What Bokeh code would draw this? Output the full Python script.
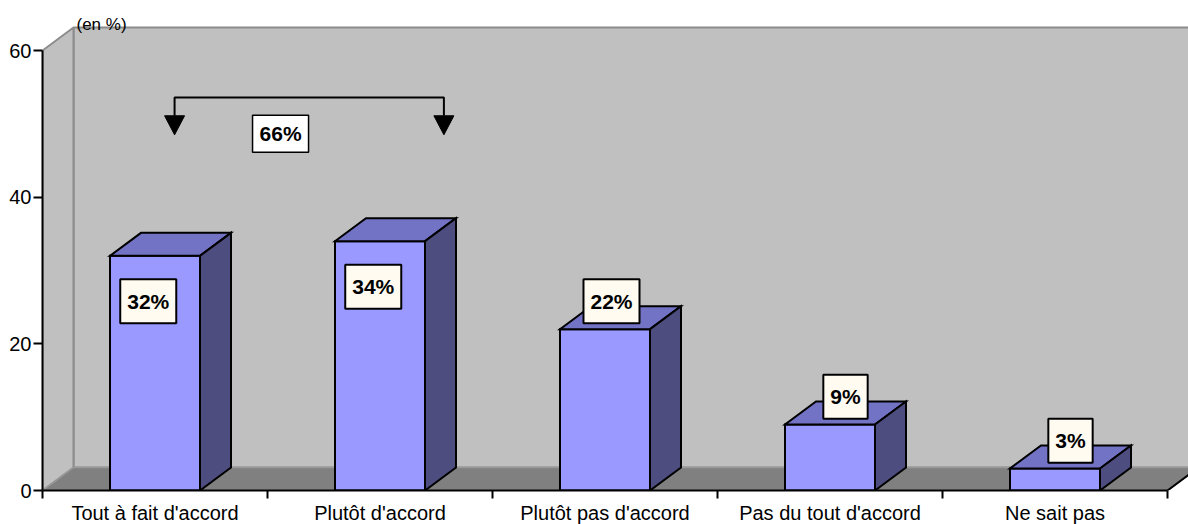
from bokeh.plotting import figure
from bokeh.models import Range1d, FixedTicker
from bokeh.core.properties import value
from bokeh.embed import file_html
from bokeh.resources import INLINE

# ---- data ----
categories = ["Tout à fait d'accord", "Plutôt d'accord", "Plutôt pas d'accord",
              "Pas du tout d'accord", "Ne sait pas"]
values = [32, 34, 22, 9, 3]
value_labels = ["32%", "34%", "22%", "9%", "3%"]
y_ticks = [0, 20, 40, 60]
unit_label = "(en %)"
group_label = "66%"

# ---- layout constants (pixels -> data) ----
PX_X = 225.0            # pixels per category
PX_Y = 440.0 / 60.0     # pixels per percent
FRAME_W, FRAME_H = 1146, 490
XMAX = FRAME_W / PX_X
YMAX = FRAME_H / PX_Y
DX = 31 / PX_X          # 3D depth offset
DY = 23 / PX_Y
BW = 90 / PX_X          # bar width
N = len(categories)
FONT = value("Liberation Sans")
LBL_SIZE = 21

p = figure(frame_width=FRAME_W, frame_height=FRAME_H,
           x_range=Range1d(0, XMAX), y_range=Range1d(0, YMAX),
           output_backend="svg", toolbar_location=None,
           min_border_left=42, min_border_right=0, min_border_top=0,
           min_border_bottom=34)
p.outline_line_color = None
p.background_fill_color = "white"
p.border_fill_color = "white"
p.xgrid.visible = False
p.ygrid.visible = False

# back wall
p.quad(left=[DX], right=[XMAX + 1], bottom=[DY], top=[y_ticks[-1] + DY],
       fill_color="#c0c0c0", line_color="#8c8c8c", line_width=2)
# left wall
p.patch([0, 0, DX, DX], [0, y_ticks[-1], y_ticks[-1] + DY, DY],
        fill_color="#c0c0c0", line_color="#8c8c8c", line_width=2)
# floor
p.patch([0, N, N + DX, XMAX + 1, DX], [0, 0, DY, DY, DY],
        fill_color="#808080", line_color="#999999", line_width=1.5)
p.segment(x0=[N], y0=[0], x1=[N + DX], y1=[DY], line_color="black", line_width=2)

# bars
fx, fy, tx, ty, sx, sy = [], [], [], [], [], []
for i, v in enumerate(values):
    x0 = i + 0.5 - BW / 2
    x1 = x0 + BW
    fx.append([x0, x1, x1, x0]); fy.append([0, 0, v, v])
    tx.append([x0, x1, x1 + DX, x0 + DX]); ty.append([v, v, v + DY, v + DY])
    sx.append([x1, x1 + DX, x1 + DX, x1]); sy.append([0, DY, v + DY, v])
common = dict(line_color="black", line_width=2, line_join="miter")
p.patches(fx, fy, fill_color="#9999ff", **common)
p.patches(tx, ty, fill_color="#7373c6", **common)
p.patches(sx, sy, fill_color="#4d4d80", **common)

# value labels
lx, ly, lw = [], [], []
for i, (v, t) in enumerate(zip(values, value_labels)):
    if v > 30:
        lx.append(i + 0.5 - 0.03)
        ly.append(v - 6.2)
    else:
        lx.append(i + 0.5 + DX / 2 - (0.04 if v > 20 else 0))
        ly.append(v + 3.8)
    lw.append(LBL_SIZE * (0.556 * (len(t) - 1) + 0.889) + 14)
p.rect(x=lx, y=ly, width=lw, height=[44] * N, width_units="screen",
       height_units="screen", fill_color="#fffbf0", line_color="black", line_width=2)
p.text(x=lx, y=ly, text=value_labels, text_font=FONT, text_font_style="bold",
       text_font_size=f"{LBL_SIZE}px", text_align="center", text_baseline="middle",
       text_color="black")

# bracket annotation (66%)
bl, br, by, bt, btip = 0.587, 1.784, 53.6, 51.1, 48.5
p.line([bl, bl, br, br], [bt, by, by, bt], line_color="black", line_width=2)
hw = 10 / PX_X
p.patches([[bl - hw, bl + hw, bl], [br - hw, br + hw, br]],
          [[bt, bt, btip], [bt, bt, btip]], fill_color="black", line_color="black")
p.rect(x=[1.058], y=[48.64], width=[56], height=[37], width_units="screen",
       height_units="screen", fill_color="white", line_color="black", line_width=1.5)
p.text(x=[1.058], y=[48.64], text=[group_label], text_font=FONT,
       text_font_style="bold", text_font_size=f"{LBL_SIZE}px", text_align="center",
       text_baseline="middle", text_color="black")

# unit label
p.text(x=[(76 - 42) / PX_X], y=[(490 - 24) / PX_Y], text=[unit_label], text_font=FONT,
       text_font_size="17px", text_align="left", text_baseline="middle",
       text_color="black")

# axes
ya = p.yaxis[0]
ya.ticker = FixedTicker(ticks=y_ticks, minor_ticks=[])
ya.bounds = (0, y_ticks[-1])
ya.axis_line_width = 2
ya.major_tick_out = 9
ya.major_tick_in = 0
ya.major_tick_line_width = 2
ya.minor_tick_line_color = None
ya.major_label_text_font = "Liberation Sans"
ya.major_label_text_font_size = "20px"
ya.major_label_text_color = "black"
ya.major_label_standoff = 2

xa = p.xaxis[0]
centers = [i + 0.5 for i in range(N)]
xa.ticker = FixedTicker(ticks=centers, minor_ticks=list(range(N + 1)))
xa.major_label_overrides = {c: name for c, name in zip(centers, categories)}
xa.bounds = (0, N)
xa.axis_line_width = 2
xa.major_tick_out = 0
xa.major_tick_in = 0
xa.major_tick_line_color = None
xa.minor_tick_out = 8
xa.minor_tick_in = 0
xa.minor_tick_line_width = 2
xa.major_label_text_font = "Liberation Sans"
xa.major_label_text_font_size = "20px"
xa.major_label_text_color = "black"
xa.major_label_standoff = 3

open("out.html", "w").write(file_html(p, INLINE))
